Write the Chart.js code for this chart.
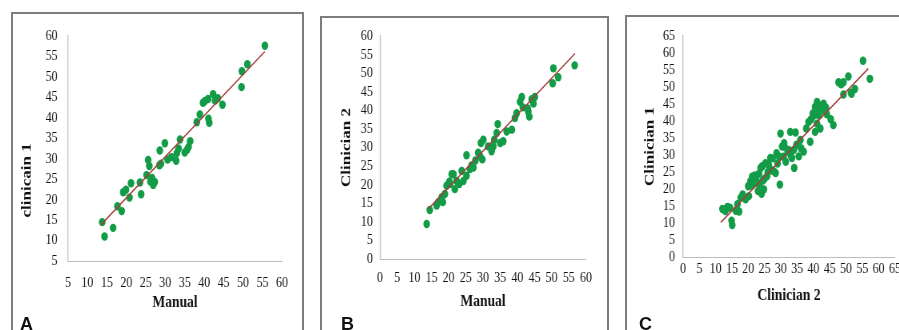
<!DOCTYPE html>
<html>
<head>
<meta charset="utf-8">
<script src="https://cdn.jsdelivr.net/npm/chart.js@4.4.0/dist/chart.umd.min.js"></script>
<style>
  body { margin: 0; background: #fff; width: 899px; height: 330px; overflow: hidden; position: relative; }
  .frame { position: absolute; box-sizing: border-box; border: 2px solid #7d7d7d; border-bottom: none; height: 330px; }
  .tag { position: absolute; font: bold 18px/18px 'Liberation Sans', Arial, sans-serif; color: #111; }
  canvas { position: absolute; transform: scaleX(0.8); transform-origin: 0 0; }
</style>
</head>
<body>
<div class="frame" style="left:11px;top:12px;width:293px"></div>
<div class="frame" style="left:320px;top:16px;width:289px"></div>
<div class="frame" style="left:625px;top:15px;width:300px"></div>

<canvas id="chartA" width="360" height="316" style="left:13px;top:14px"></canvas>
<canvas id="chartB" width="354" height="312" style="left:323px;top:18px"></canvas>
<canvas id="chartC" width="350" height="313" style="left:628px;top:17px"></canvas>

<div class="tag" style="left:20px;top:315px">A</div>
<div class="tag" style="left:341px;top:315px">B</div>
<div class="tag" style="left:639px;top:315px">C</div>

<script>
// panel A: manual vs clinician 1
const manualA = [13.8, 14.4, 16.6, 17.7, 18.8, 19.2, 19.9, 20.8, 21.2, 23.5, 23.8, 25.2, 25.6, 25.9, 26.2, 26.6, 26.9, 27.3, 28.5, 28.9, 28.6, 29.9, 30.6, 31.6, 32.8, 33.0, 33.4, 33.8, 35.0, 35.6, 36.0, 36.4, 38.1, 38.9, 39.7, 40.2, 41.1, 41.3, 41.0, 42.3, 42.8, 43.5, 44.7, 49.6, 49.7, 51.1, 55.6];
const clin1A = [14.5, 11.0, 13.1, 18.4, 17.2, 21.8, 22.4, 20.5, 24.0, 24.2, 21.3, 26.0, 29.7, 28.2, 24.4, 25.3, 23.6, 24.3, 28.4, 28.8, 32.0, 33.8, 29.8, 30.4, 29.5, 31.4, 32.5, 34.7, 31.5, 32.2, 32.9, 34.3, 38.9, 40.8, 43.7, 44.1, 39.8, 38.8, 44.6, 45.8, 44.2, 44.8, 43.2, 47.5, 51.4, 53.1, 57.6];
const trendAx = [13.5, 55.6];
const trendAy = [13.9, 56.2];

// panel B: manual vs clinician 2
const manualB = [13.6, 14.5, 16.5, 17.0, 18.0, 18.3, 18.9, 19.4, 20.2, 20.4, 20.9, 21.4, 21.8, 22.3, 23.1, 23.8, 24.3, 25.2, 25.2, 26.2, 26.7, 27.2, 27.8, 28.6, 29.1, 29.4, 29.8, 30.1, 31.5, 32.5, 33.0, 33.3, 34.0, 34.3, 35.0, 35.9, 36.9, 38.4, 39.3, 39.8, 40.8, 41.3, 41.6, 43.0, 43.2, 43.5, 44.2, 44.7, 45.1, 50.5, 50.3, 51.9, 56.7];
const clin2B = [9.4, 13.2, 14.4, 15.3, 16.6, 15.3, 17.5, 19.7, 20.8, 20.2, 22.8, 22.8, 18.8, 21.0, 20.2, 23.7, 21.0, 22.4, 27.9, 24.2, 25.2, 24.6, 26.5, 28.6, 27.7, 31.2, 26.8, 32.1, 30.3, 29.0, 30.3, 32.1, 33.9, 36.3, 31.2, 31.7, 34.3, 34.8, 37.9, 39.2, 42.3, 43.6, 40.8, 40.5, 39.6, 38.3, 43.0, 41.8, 43.6, 51.3, 47.3, 48.9, 52.1];
const trendBx = [14.1, 56.8];
const trendBy = [13.5, 55.3];

// panel C: clinician 2 vs clinician 1
const clin2C = [12.1, 13.0, 13.6, 14.4, 14.9, 15.1, 16.2, 16.7, 17.2, 17.7, 18.3, 19.2, 20.0, 20.2, 20.7, 21.2, 21.0, 22.3, 22.0, 23.0, 23.3, 23.8, 24.1, 24.3, 24.8, 24.5, 25.0, 25.3, 25.8, 26.3, 26.8, 27.2, 27.5, 27.8, 28.4, 28.7, 29.0, 29.4, 29.7, 29.9, 30.4, 31.0, 31.1, 31.5, 32.1, 32.4, 32.9, 33.4, 34.0, 34.1, 34.5, 34.8, 35.5, 36.0, 36.2, 37.0, 37.8, 38.5, 39.0, 39.3, 39.8, 40.5, 41.1, 41.6, 41.1, 42.0, 42.5, 42.6, 43.1, 43.5, 44.1, 42.1, 40.5, 45.3, 46.1, 47.7, 49.2, 50.7, 49.2, 51.7, 52.7, 55.2, 57.3, 22.5, 23.5, 26.0, 30.8, 33.0, 40.0, 41.5, 43.8, 48.5, 51.5];
const clin1C = [14.1, 13.5, 14.7, 14.5, 10.7, 9.4, 13.6, 15.5, 13.4, 17.4, 18.4, 17.0, 20.8, 17.9, 22.3, 23.6, 21.0, 21.8, 24.0, 19.4, 24.5, 26.2, 18.6, 26.7, 19.9, 22.5, 23.0, 27.6, 23.8, 27.0, 29.1, 25.5, 29.0, 25.2, 24.7, 30.5, 27.5, 29.6, 21.3, 36.3, 32.5, 33.5, 32.5, 28.0, 31.0, 31.5, 36.8, 29.1, 31.5, 26.2, 36.6, 33.0, 29.6, 34.4, 32.0, 31.0, 37.8, 39.7, 33.9, 40.5, 42.2, 44.1, 45.6, 41.7, 39.2, 43.5, 44.5, 43.1, 45.1, 43.0, 42.0, 37.8, 36.8, 40.5, 38.8, 51.4, 51.4, 53.1, 47.8, 48.0, 49.4, 57.7, 52.4, 22.5, 21.5, 25.0, 29.5, 30.0, 41.5, 43.0, 44.0, 50.8, 48.3];
const trendCx = [11.6, 56.8];
const trendCy = [10.2, 55.4];

const DOT = '#139c48';
const LINE = '#a3403c';
const AXIS = '#bdbdbd';

Chart.defaults.font.family = "'Liberation Serif', 'Times New Roman', serif";

function pairs(xs, ys) {
  return xs.map((x, i) => ({ x: x, y: ys[i] }));
}

function scatterPanel(id, p) {
  new Chart(document.getElementById(id), {
    type: 'scatter',
    data: {
      datasets: [
        { data: pairs(p.xs, p.ys), backgroundColor: DOT, borderColor: DOT, borderWidth: 0,
          pointRadius: 4.2, pointHoverRadius: 4.2, order: 2 },
        { data: pairs(p.tx, p.ty), showLine: true, borderColor: LINE, borderWidth: 1.5,
          pointRadius: 0, order: 1 }
      ]
    },
    options: {
      responsive: false,
      animation: false,
      plugins: { legend: { display: false }, tooltip: { enabled: false } },
      layout: { padding: p.pad },
      scales: {
        x: {
          type: 'linear', min: p.xMin, max: p.xMax,
          grid: { display: false, drawTicks: false },
          border: { color: AXIS, width: 1 },
          ticks: { stepSize: 5, padding: p.xTickPad, autoSkip: false, maxRotation: 0, color: '#151515', font: { size: 15 } },
          title: { display: true, text: p.xTitle, color: '#111', padding: 0, font: { size: 17, weight: 'bold' } },
          afterFit: s => { s.height = p.xH; }
        },
        y: {
          type: 'linear', min: p.yMin, max: p.yMax,
          grid: { display: false, drawTicks: false },
          border: { color: AXIS, width: 1.25 },
          ticks: { stepSize: 5, padding: p.yTickPad, autoSkip: false, color: '#151515', font: { size: 15 } },
          title: { display: true, text: p.yTitle, color: '#111', padding: 0, font: { size: 17, weight: 'bold' } },
          afterFit: s => { s.width = p.yW; }
        }
      }
    }
  });
}

scatterPanel('chartA', {
  xs: manualA, ys: clin1A, tx: trendAx, ty: trendAy,
  xMin: 5, xMax: 60, yMin: 5, yMax: 60,
  xTitle: 'Manual', yTitle: 'clinicain 1               ',
  pad: { left: 7.3, top: 17, right: 23.75, bottom: 16.8 },
  yW: 61.45, xH: 52.2, yTickPad: 13, xTickPad: 13
});

scatterPanel('chartB', {
  xs: manualB, ys: clin2B, tx: trendBx, ty: trendBy,
  xMin: 0, xMax: 60, yMin: 0, yMax: 60,
  xTitle: 'Manual', yTitle: 'Clinician 2',
  pad: { left: 19.8, top: 15, right: 25.25, bottom: 17.8 },
  yW: 51.45, xH: 53.2, yTickPad: 9, xTickPad: 10
});

scatterPanel('chartC', {
  xs: clin2C, ys: clin1C, tx: trendCx, ty: trendCy,
  xMin: 0, xMax: 65, yMin: 0, yMax: 65,
  xTitle: 'Clinician 2', yTitle: 'Clinician 1',
  pad: { left: 17.3, top: 16, right: 16.25, bottom: 23.8 },
  yW: 51.45, xH: 49.2, yTickPad: 10, xTickPad: 3
});
</script>
</body>
</html>
